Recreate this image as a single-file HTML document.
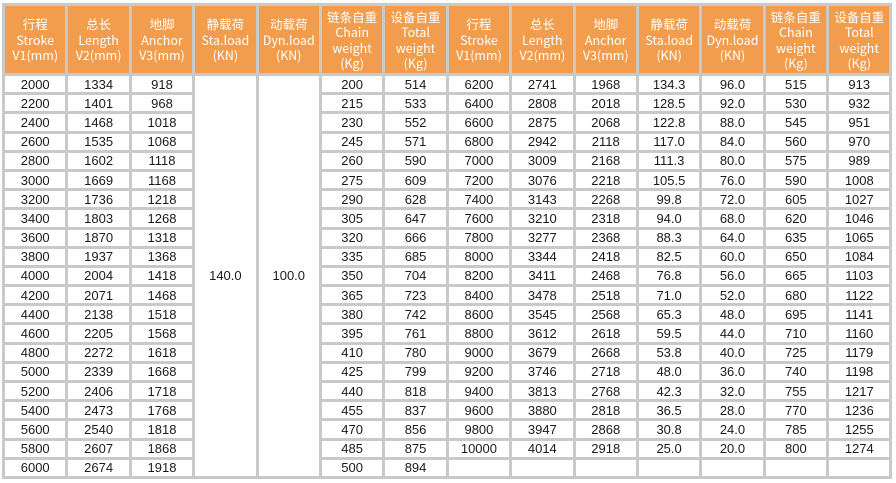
<!DOCTYPE html>
<html><head><meta charset="utf-8"><style>
body{margin:0;background:#fff;width:896px;height:483px;overflow:hidden}
table{position:absolute;left:2px;top:3px;border-collapse:collapse;table-layout:fixed;width:888px}
td,th{border:3px solid #c9c9c9;padding:0;text-align:center;font-family:"Liberation Sans","Noto Sans CJK SC",sans-serif;font-size:13px;color:#1a1a1a;line-height:13px;overflow:hidden}
th{background:#f19d4d;color:#fff;font-weight:normal;font-family:"Noto Sans CJK SC","Liberation Sans",sans-serif;font-size:12.5px;line-height:15.5px}
tr.h{height:70px}
tr.d{height:19.2px}
.o{border-left:3px solid #f19d4d}
</style></head><body>
<table>
<colgroup><col span="14" style="width:63.4px"></colgroup>
<tr class="h"><th>行程<br>Stroke<br>V1(mm)</th><th>总长<br>Length<br>V2(mm)</th><th>地脚<br>Anchor<br>V3(mm)</th><th>静载荷<br>Sta.load<br>(KN)</th><th>动载荷<br>Dyn.load<br>(KN)</th><th>链条自重<br>Chain<br>weight<br>(Kg)</th><th>设备自重<br>Total<br>weight<br>(Kg)</th><th class="o">行程<br>Stroke<br>V1(mm)</th><th>总长<br>Length<br>V2(mm)</th><th>地脚<br>Anchor<br>V3(mm)</th><th>静载荷<br>Sta.load<br>(KN)</th><th>动载荷<br>Dyn.load<br>(KN)</th><th>链条自重<br>Chain<br>weight<br>(Kg)</th><th>设备自重<br>Total<br>weight<br>(Kg)</th></tr>
<tr class="d"><td>2000</td><td>1334</td><td>918</td><td rowspan="21">140.0</td><td rowspan="21">100.0</td><td>200</td><td>514</td><td class="o">6200</td><td>2741</td><td>1968</td><td>134.3</td><td>96.0</td><td>515</td><td>913</td></tr>
<tr class="d"><td>2200</td><td>1401</td><td>968</td><td>215</td><td>533</td><td class="o">6400</td><td>2808</td><td>2018</td><td>128.5</td><td>92.0</td><td>530</td><td>932</td></tr>
<tr class="d"><td>2400</td><td>1468</td><td>1018</td><td>230</td><td>552</td><td class="o">6600</td><td>2875</td><td>2068</td><td>122.8</td><td>88.0</td><td>545</td><td>951</td></tr>
<tr class="d"><td>2600</td><td>1535</td><td>1068</td><td>245</td><td>571</td><td class="o">6800</td><td>2942</td><td>2118</td><td>117.0</td><td>84.0</td><td>560</td><td>970</td></tr>
<tr class="d"><td>2800</td><td>1602</td><td>1118</td><td>260</td><td>590</td><td class="o">7000</td><td>3009</td><td>2168</td><td>111.3</td><td>80.0</td><td>575</td><td>989</td></tr>
<tr class="d"><td>3000</td><td>1669</td><td>1168</td><td>275</td><td>609</td><td class="o">7200</td><td>3076</td><td>2218</td><td>105.5</td><td>76.0</td><td>590</td><td>1008</td></tr>
<tr class="d"><td>3200</td><td>1736</td><td>1218</td><td>290</td><td>628</td><td class="o">7400</td><td>3143</td><td>2268</td><td>99.8</td><td>72.0</td><td>605</td><td>1027</td></tr>
<tr class="d"><td>3400</td><td>1803</td><td>1268</td><td>305</td><td>647</td><td class="o">7600</td><td>3210</td><td>2318</td><td>94.0</td><td>68.0</td><td>620</td><td>1046</td></tr>
<tr class="d"><td>3600</td><td>1870</td><td>1318</td><td>320</td><td>666</td><td class="o">7800</td><td>3277</td><td>2368</td><td>88.3</td><td>64.0</td><td>635</td><td>1065</td></tr>
<tr class="d"><td>3800</td><td>1937</td><td>1368</td><td>335</td><td>685</td><td class="o">8000</td><td>3344</td><td>2418</td><td>82.5</td><td>60.0</td><td>650</td><td>1084</td></tr>
<tr class="d"><td>4000</td><td>2004</td><td>1418</td><td>350</td><td>704</td><td class="o">8200</td><td>3411</td><td>2468</td><td>76.8</td><td>56.0</td><td>665</td><td>1103</td></tr>
<tr class="d"><td>4200</td><td>2071</td><td>1468</td><td>365</td><td>723</td><td class="o">8400</td><td>3478</td><td>2518</td><td>71.0</td><td>52.0</td><td>680</td><td>1122</td></tr>
<tr class="d"><td>4400</td><td>2138</td><td>1518</td><td>380</td><td>742</td><td class="o">8600</td><td>3545</td><td>2568</td><td>65.3</td><td>48.0</td><td>695</td><td>1141</td></tr>
<tr class="d"><td>4600</td><td>2205</td><td>1568</td><td>395</td><td>761</td><td class="o">8800</td><td>3612</td><td>2618</td><td>59.5</td><td>44.0</td><td>710</td><td>1160</td></tr>
<tr class="d"><td>4800</td><td>2272</td><td>1618</td><td>410</td><td>780</td><td class="o">9000</td><td>3679</td><td>2668</td><td>53.8</td><td>40.0</td><td>725</td><td>1179</td></tr>
<tr class="d"><td>5000</td><td>2339</td><td>1668</td><td>425</td><td>799</td><td class="o">9200</td><td>3746</td><td>2718</td><td>48.0</td><td>36.0</td><td>740</td><td>1198</td></tr>
<tr class="d"><td>5200</td><td>2406</td><td>1718</td><td>440</td><td>818</td><td class="o">9400</td><td>3813</td><td>2768</td><td>42.3</td><td>32.0</td><td>755</td><td>1217</td></tr>
<tr class="d"><td>5400</td><td>2473</td><td>1768</td><td>455</td><td>837</td><td class="o">9600</td><td>3880</td><td>2818</td><td>36.5</td><td>28.0</td><td>770</td><td>1236</td></tr>
<tr class="d"><td>5600</td><td>2540</td><td>1818</td><td>470</td><td>856</td><td class="o">9800</td><td>3947</td><td>2868</td><td>30.8</td><td>24.0</td><td>785</td><td>1255</td></tr>
<tr class="d"><td>5800</td><td>2607</td><td>1868</td><td>485</td><td>875</td><td class="o">10000</td><td>4014</td><td>2918</td><td>25.0</td><td>20.0</td><td>800</td><td>1274</td></tr>
<tr class="d"><td>6000</td><td>2674</td><td>1918</td><td>500</td><td>894</td><td class="o"></td><td></td><td></td><td></td><td></td><td></td><td></td></tr>
</table>
</body></html>
